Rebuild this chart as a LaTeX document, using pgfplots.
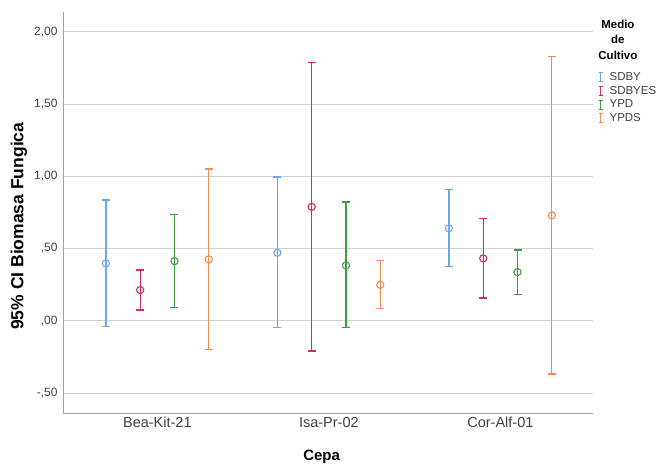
\documentclass[border=0pt]{standalone}
\usepackage{fontspec}
\setmainfont{Liberation Sans}
\usepackage{pgfplots}
\usepackage{pgfplotstable}
\pgfplotsset{compat=1.18}
\definecolor{cSDBY}{HTML}{6FA6E8}
\definecolor{cSDBYES}{HTML}{D42A5C}
\definecolor{cYPD}{HTML}{3F9B3F}
\definecolor{cYPDS}{HTML}{F28C50}
\pgfplotstableread{
x y ep em
-0.3 0.397 0.439 0.437
0.7 0.471 0.524 0.519
1.7 0.640 0.267 0.266
}\tSDBY
\pgfplotstableread{
x y ep em
-0.1 0.213 0.138 0.139
0.9 0.789 0.998 0.997
1.9 0.432 0.274 0.275
}\tSDBYES
\pgfplotstableread{
x y ep em
0.1 0.413 0.324 0.323
1.1 0.384 0.438 0.432
2.1 0.337 0.153 0.157
}\tYPD
\pgfplotstableread{
x y ep em
0.3 0.425 0.625 0.623
1.3 0.249 0.167 0.163
2.3 0.730 1.098 1.099
}\tYPDS
\pgfplotsset{
  cibar/.style={only marks, mark=o, mark size=3.6pt, line width=1.3pt,
    draw=#1, color=#1, mark options={draw=#1, fill=none, solid, line width=1.1pt},
    error bars/y dir=both, error bars/y explicit,
    error bars/error bar style={draw=#1, line width=1.3pt, solid},
    error bars/error mark options={rotate=90, draw=#1, mark size=4pt, line width=1.3pt, solid}},
}
\begin{document}
\begin{tikzpicture}
\begin{axis}[
  scale only axis,
  width=530pt, height=401.7pt,
  xmin=-0.55, xmax=2.54,
  ymin=-0.64, ymax=2.14,
  axis x line*=bottom, axis y line*=left,
  axis line style={draw=gray!75, line width=0.8pt, -},
  xtick={0,1,2},
  xticklabels={Bea-Kit-21,Isa-Pr-02,Cor-Alf-01},
  ytick={-0.5,0,0.5,1,1.5,2},
  yticklabels={{-,50},{,00},{,50},{1,00},{1,50},{2,00}},
  major tick length=0pt,
  xticklabel style={font=\fontsize{14.5}{16}\selectfont, text=black!75, anchor=center, yshift=-9pt},
  yticklabel style={font=\fontsize{12}{14}\selectfont, text=black!75, xshift=-2pt},
  ymajorgrids,
  major grid style={draw=gray!35, line width=0.8pt},
  xlabel={\textbf{Cepa}},
  ylabel={\textbf{95\% CI Biomasa Fungica}},
  xlabel style={font=\fontsize{15}{17}\selectfont, at={(axis description cs:0.488,-0.109)}, anchor=center},
  ylabel style={font=\fontsize{17.5}{19}\selectfont, at={(axis description cs:-0.083,0.466)}, anchor=center},
  legend style={draw=none, fill=none, at={(axis description cs:1.0094,0.850)}, anchor=north west,
    inner sep=0pt, outer sep=0pt, font=\fontsize{11.5}{13}\selectfont,
    row sep=2.7pt, column sep=6pt,
    nodes={inner sep=0.5pt, text height=8pt, text depth=2pt, text=black!75}},
  legend cell align=left,
  legend image code/.code={\draw[#1, mark=none, line width=1.1pt] (4pt,-4.5pt)--(4pt,4.5pt) (2pt,4.5pt)--(6pt,4.5pt) (2pt,-4.5pt)--(6pt,-4.5pt);},
  clip=false,
]
\addplot[cibar=cSDBY] table[x=x, y=y, y error plus=ep, y error minus=em] {\tSDBY};
\addlegendentry{SDBY}
\addplot[cibar=cSDBYES] table[x=x, y=y, y error plus=ep, y error minus=em] {\tSDBYES};
\addlegendentry{SDBYES}
\addplot[cibar=cYPD] table[x=x, y=y, y error plus=ep, y error minus=em] {\tYPD};
\addlegendentry{YPD}
\addplot[cibar=cYPDS] table[x=x, y=y, y error plus=ep, y error minus=em] {\tYPDS};
\addlegendentry{YPDS}
\node[font=\fontsize{11.5}{15.5}\selectfont\bfseries, align=center, anchor=center] at (axis description cs:1.047,0.9305) {Medio\\de\\Cultivo};
\end{axis}
\path (current axis.south west) ++(-63pt,-52.7pt) rectangle ++(662pt,466pt);
\end{tikzpicture}
\end{document}
